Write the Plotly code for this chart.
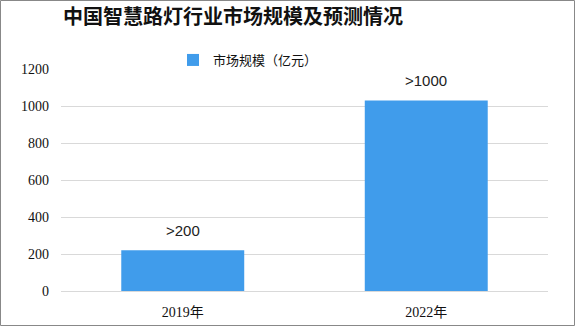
import plotly.graph_objects as go

categories = ["2019年", "2022年"]
values = [220, 1030]
labels = [">200", ">1000"]
series_name = "市场规模（亿元）"
title_text = "中国智慧路灯行业市场规模及预测情况"

W, H = 576, 327
L, R, T, B = 61, 28, 69, 36
pw, ph = W - L - R, H - T - B

fig = go.Figure()
fig.add_trace(go.Bar(
    x=categories, y=values, name=series_name,
    marker=dict(color="#409CEB", line=dict(width=0)),
))

for c, v, t in zip(categories, values, labels):
    fig.add_annotation(x=c, y=v, text=t, showarrow=False, yanchor="bottom", yshift=9,
                       font=dict(family="Liberation Sans, Arial, sans-serif", size=15, color="#222"))

fig.update_layout(
    width=W, height=H,
    margin=dict(l=L, r=R, t=T, b=B, autoexpand=False),
    paper_bgcolor="white", plot_bgcolor="white",
    bargap=0.495,
    showlegend=True,
    title=dict(text="<b>" + title_text + "</b>", x=63 / W, xanchor="left", y=1 - 17 / H, yanchor="middle",
               font=dict(family="Noto Sans CJK SC", size=20, color="#111")),
    legend=dict(orientation="h", x=(173 - L) / pw, xanchor="left", y=1 + (69 - 60) / ph, yanchor="middle",
                font=dict(family="Noto Sans CJK SC", size=13, color="#111"),
                itemwidth=30, bgcolor="rgba(0,0,0,0)"),
    xaxis=dict(showline=False, ticks="", ticklabelstandoff=11, automargin=False,
               tickfont=dict(family="Liberation Serif, Noto Sans CJK SC", size=14, color="#111")),
    yaxis=dict(range=[0, 1200], dtick=200, showgrid=True, gridcolor="#D9D9D9", gridwidth=1,
               zeroline=True, zerolinecolor="#D9D9D9", zerolinewidth=1, automargin=False,
               ticks="", ticklabelstandoff=11,
               tickfont=dict(family="Liberation Serif, serif", size=14, color="#111")),
)

fig.add_shape(type="rect", xref="paper", yref="paper",
              x0=(0.5 - L) / pw, x1=(W - 1.5 - L) / pw,
              y0=-(B - 1.5) / ph, y1=1 + (T - 0.5) / ph,
              line=dict(color="#888", width=1), fillcolor="rgba(0,0,0,0)", layer="above")

fig.write_html("out.html")
